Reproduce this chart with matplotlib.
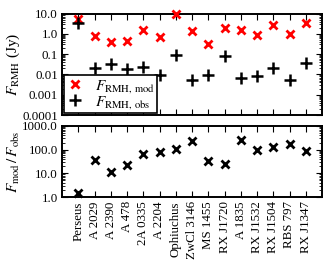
import matplotlib
matplotlib.use("Agg")
import matplotlib.pyplot as plt
import numpy as np
from matplotlib.ticker import FixedLocator, FixedFormatter, LogLocator, NullFormatter

plt.rcParams['font.family'] = ['Liberation Serif', 'DejaVu Serif']
plt.rcParams['mathtext.fontset'] = 'stix'

clusters = ["Perseus", "A 2029", "A 2390", "A 478", "2A 0335", "A 2204", "Ophiuchus",
            "ZwCl 3146", "MS 1455", "RX J1720", "A 1835", "RX J1532", "RX J1504",
            "RBS 797", "RX J1347"]
f_mod = [5.5, 0.78, 0.38, 0.45, 1.5, 0.72, 9.5, 1.3, 0.30, 2.0, 1.6, 0.85, 2.8, 1.0, 3.5]
f_obs = [3.5, 0.021, 0.032, 0.019, 0.022, 0.0092, 0.09, 0.0056, 0.0092, 0.08, 0.0065,
         0.0082, 0.021, 0.0056, 0.038]
ratio = [1.5, 36, 11.5, 23, 68, 78, 105, 232, 32, 25, 245, 100, 133, 175, 88]

top_ticks = [1e-4, 1e-3, 1e-2, 1e-1, 1, 10]
top_labels = ["0.0001", "0.001", "0.01", "0.1", "1.0", "10.0"]
bot_ticks = [1, 10, 100, 1000]
bot_labels = ["1.0", "10.0", "100.0", "1000.0"]

W, H = 328, 263
fig = plt.figure(figsize=(W / 100, H / 100), dpi=100)
left, right = 62, 322
ax1 = fig.add_axes([left / W, 1 - 115 / H, (right - left) / W, (115 - 13.5) / H])
ax2 = fig.add_axes([left / W, 1 - 197 / H, (right - left) / W, (197 - 126) / H])

x = np.arange(len(clusters))
fs = 9.3

ax1.plot(x, f_mod, linestyle='none', marker='x', color='red', ms=6, mew=2,
         label=r'$F_{\rm RMH,\,mod}$', clip_on=False, zorder=3)
ax1.plot(x, f_obs, linestyle='none', marker='+', color='black', ms=8, mew=1.8,
         label=r'$F_{\rm RMH,\,obs}$', clip_on=False, zorder=3)
ax2.plot(x, ratio, linestyle='none', marker='x', color='black', ms=5.5, mew=2,
         clip_on=False, zorder=3)

for ax in (ax1, ax2):
    ax.set_yscale('log')
    ax.set_xlim(-1, len(clusters))
    ax.set_xticks(x)
    for s in ax.spines.values():
        s.set_linewidth(1.4)
    ax.tick_params(which='both', direction='in', top=True, right=True, labelsize=fs)
    ax.tick_params(which='major', length=4, width=0.8, pad=3)
    ax.tick_params(which='minor', length=2, width=0.6)
    ax.yaxis.set_minor_locator(LogLocator(base=10, subs=np.arange(2, 10), numticks=20))
    ax.yaxis.set_minor_formatter(NullFormatter())

ax1.set_ylim(1e-4, 10)
ax1.yaxis.set_major_locator(FixedLocator(top_ticks))
ax1.yaxis.set_major_formatter(FixedFormatter(top_labels))
ax1.set_xticklabels([])
ax1.set_ylabel(r'$F_{\rm RMH}$ (Jy)', fontsize=11)

ax2.set_ylim(1, 1000)
ax2.yaxis.set_major_locator(FixedLocator(bot_ticks))
ax2.yaxis.set_major_formatter(FixedFormatter(bot_labels))
ax2.set_xticklabels(clusters, rotation=90, fontsize=fs)
ax2.set_ylabel(r'$F_{\rm mod}\,/\,F_{\rm obs}$', fontsize=11)

ax1.yaxis.set_label_coords(-0.155, 0.5)
ax2.yaxis.set_label_coords(-0.155, 0.5)

leg = ax1.legend(loc='lower left', fontsize=11, frameon=True, fancybox=False,
                 borderaxespad=0.12, handletextpad=0.7, handlelength=1.2,
                 borderpad=0.15, labelspacing=-0.05, framealpha=1)
leg.get_frame().set_edgecolor('black')
leg.get_frame().set_linewidth(1.2)
leg.set_zorder(5)

fig.savefig("out.png", dpi=100)
